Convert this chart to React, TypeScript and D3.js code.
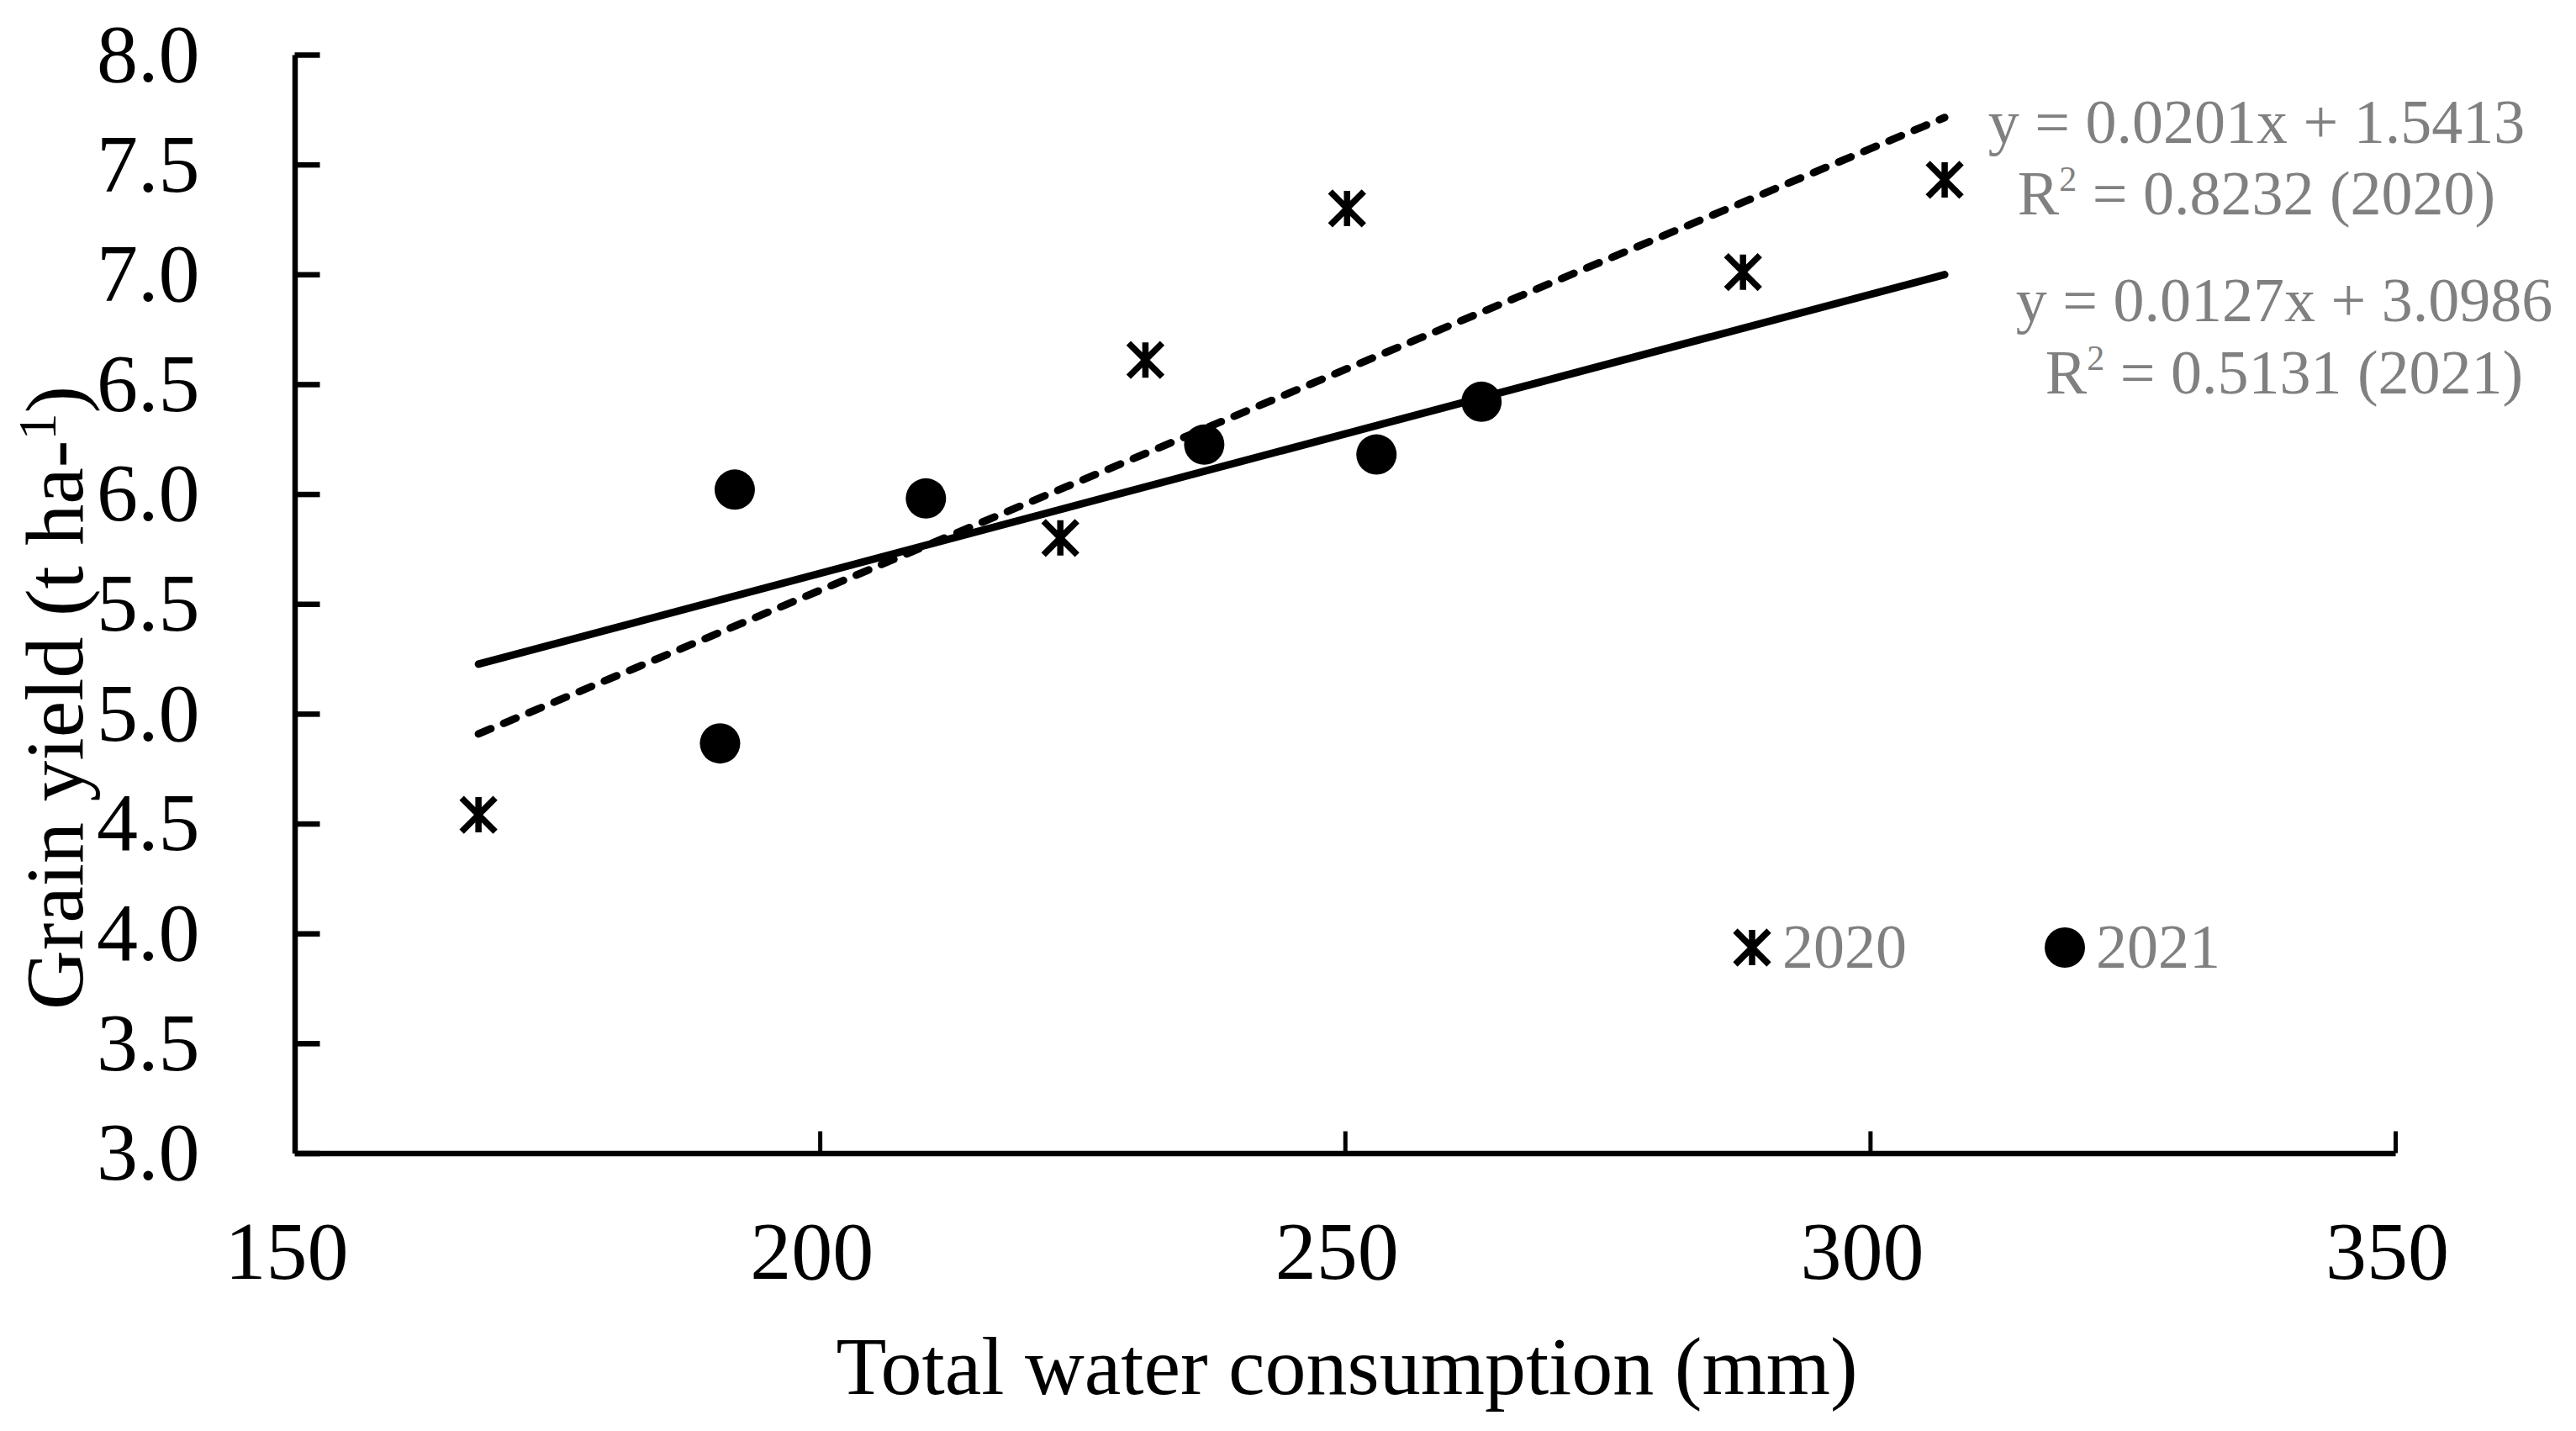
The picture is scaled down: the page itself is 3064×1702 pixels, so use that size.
import { useRef, useEffect } from 'react';
import * as d3 from 'd3';

const years = ['2020', '2021'];
const water2020 = [167.5, 222.9, 231.0, 250.2, 287.9, 307.1];
const yield2020 = [4.54, 5.8, 6.61, 7.3, 7.01, 7.43];
const water2021 = [190.5, 191.9, 210.1, 236.6, 253.0, 263.0];
const yield2021 = [4.865, 6.02, 5.98, 6.225, 6.18, 6.42];
const fitSlope = [0.0201, 0.0127];
const fitIntercept = [1.5413, 3.0986];
const fitR2 = [0.8232, 0.5131];
const xTicks = [150, 200, 250, 300, 350];
const yTicks = [3.0, 3.5, 4.0, 4.5, 5.0, 5.5, 6.0, 6.5, 7.0, 7.5, 8.0];

const W = 3064;
const H = 1702;
const FONT = '"Liberation Serif", "Times New Roman", serif';
const GREY = '#808080';

export default function App() {
  const svgRef = useRef<SVGSVGElement>(null);

  useEffect(() => {
    if (!svgRef.current) return;
    const svg = d3.select(svgRef.current);
    svg.selectAll('*').remove();

    const x = d3.scaleLinear().domain([150, 350]).range([350.5, 2849]);
    const y = d3.scaleLinear().domain([3, 8]).range([1371.5, 65]);

    const g = svg.append('g');

    // y axis, ticks pointing inside
    g.append('g')
      .attr('transform', `translate(${x(150)},0)`)
      .call(d3.axisLeft(y).tickValues(yTicks).tickSize(-30).tickSizeOuter(0).tickPadding(113).tickFormat(d3.format('.1f')))
      .call((el) => el.select('.domain').attr('stroke', '#000').attr('stroke-width', 6.5))
      .call((el) => el.selectAll('.tick line').attr('stroke', '#000').attr('stroke-width', 6.5))
      .call((el) => el.selectAll('.tick text').attr('fill', '#000').attr('font-size', 98).attr('font-family', FONT));

    // x axis
    g.append('g')
      .attr('transform', `translate(0,${y(3)})`)
      .call(d3.axisBottom(x).tickValues(xTicks).tickSize(-26).tickSizeOuter(0).tickPadding(80).tickFormat(d3.format('d')))
      .call((el) => el.select('.domain').attr('stroke', '#000').attr('stroke-width', 6.5))
      .call((el) => el.selectAll('.tick line').attr('stroke', '#000').attr('stroke-width', 5))
      .call((el) => el.selectAll('.tick text').attr('fill', '#000').attr('font-size', 98).attr('font-family', FONT).attr('dx', -10));

    // trend lines over the full range of water use
    const ext = d3.extent([...water2020, ...water2021]) as [number, number];
    years.forEach((_, i) => {
      const pts: [number, number][] = ext.map((v) => [x(v), y(fitSlope[i] * v + fitIntercept[i])]);
      g.append('path')
        .attr('d', d3.line()(pts))
        .attr('fill', 'none')
        .attr('stroke', '#000')
        .attr('stroke-width', 9)
        .attr('stroke-linecap', 'round')
        .attr('stroke-dasharray', i === 0 ? '16 16.5' : null);
    });

    const star = 'M-20,-20L20,20M-20,20L20,-20M0,-21L0,21';

    // 2020 markers
    g.selectAll('path.s2020')
      .data(water2020.map((w, i) => [w, yield2020[i]]))
      .join('path')
      .attr('class', 's2020')
      .attr('transform', (d) => `translate(${x(d[0])},${y(d[1])})`)
      .attr('d', star)
      .attr('stroke', '#000')
      .attr('stroke-width', 7.5)
      .attr('fill', 'none');

    // 2021 markers
    g.selectAll('circle.s2021')
      .data(water2021.map((w, i) => [w, yield2021[i]]))
      .join('circle')
      .attr('class', 's2021')
      .attr('cx', (d) => x(d[0]))
      .attr('cy', (d) => y(d[1]))
      .attr('r', 24)
      .attr('fill', '#000');

    // axis titles
    svg.append('text')
      .attr('x', 1602)
      .attr('y', 1658)
      .attr('text-anchor', 'middle')
      .attr('font-family', FONT)
      .attr('font-size', 98)
      .attr('fill', '#000')
      .text('Total water consumption (mm)');

    const yt = svg.append('text')
      .attr('transform', 'translate(98,830) rotate(-90)')
      .attr('text-anchor', 'middle')
      .attr('font-family', FONT)
      .attr('font-size', 98)
      .attr('fill', '#000');
    yt.append('tspan').text('Grain yield (t ha-');
    yt.append('tspan').attr('font-size', 64).attr('dy', -32).text('1');
    yt.append('tspan').attr('dy', 32).text(')');

    // equations
    const eqPos = [
      { cx: 2684, b1: 170, b2: 255 },
      { cx: 2717, b1: 382, b2: 468 },
    ];
    years.forEach((yr, i) => {
      const p = eqPos[i];
      svg.append('text')
        .attr('x', p.cx)
        .attr('y', p.b1)
        .attr('text-anchor', 'middle')
        .attr('font-family', FONT)
        .attr('font-size', 74)
        .attr('fill', GREY)
        .text(`y = ${fitSlope[i].toFixed(4)}x + ${fitIntercept[i].toFixed(4)}`);
      const t = svg.append('text')
        .attr('x', p.cx)
        .attr('y', p.b2)
        .attr('text-anchor', 'middle')
        .attr('font-family', FONT)
        .attr('font-size', 74)
        .attr('fill', GREY);
      t.append('tspan').text('R');
      t.append('tspan').attr('font-size', 42).attr('dy', -28).text('2');
      t.append('tspan').attr('dy', 28).text(` = ${fitR2[i].toFixed(4)} (${yr})`);
    });

    // legend
    const lg = svg.append('g');
    lg.append('path')
      .attr('transform', 'translate(2084,1127)')
      .attr('d', star)
      .attr('stroke', '#000')
      .attr('stroke-width', 7.5)
      .attr('fill', 'none');
    lg.append('text')
      .attr('x', 2120).attr('y', 1151)
      .attr('font-family', FONT).attr('font-size', 74).attr('fill', GREY)
      .text(years[0]);
    lg.append('circle').attr('cx', 2456).attr('cy', 1127).attr('r', 24).attr('fill', '#000');
    lg.append('text')
      .attr('x', 2493).attr('y', 1151)
      .attr('font-family', FONT).attr('font-size', 74).attr('fill', GREY)
      .text(years[1]);
  }, []);

  return (
    <div style={{ position: 'absolute', left: 0, top: 0, background: '#fff' }}>
      <svg ref={svgRef} width={W} height={H} viewBox={`0 0 ${W} ${H}`} style={{ display: 'block' }} />
    </div>
  );
}
